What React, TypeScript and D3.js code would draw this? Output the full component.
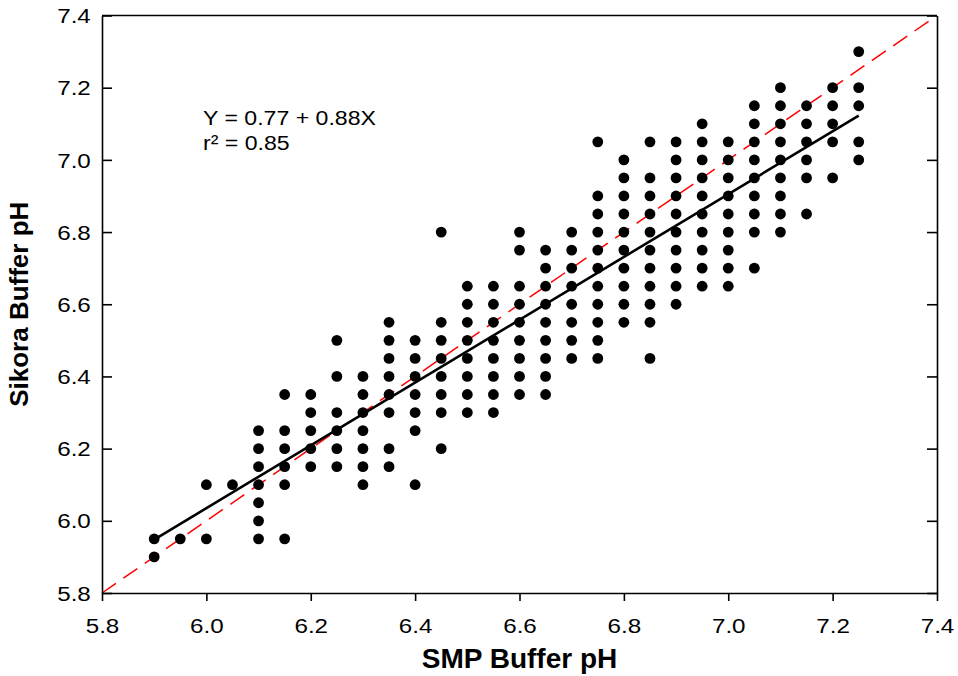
import React, { useEffect, useRef } from "react"
import * as d3 from "d3"

// SMP buffer pH columns and the Sikora values read at each column
const smpValues = [5.9, 5.95, 6.0, 6.05, 6.1, 6.15, 6.2, 6.25, 6.3, 6.35, 6.4, 6.45, 6.5, 6.55, 6.6, 6.65, 6.7, 6.75, 6.8, 6.85, 6.9, 6.95, 7.0, 7.05, 7.1, 7.15, 7.2, 7.25]
const sikoraByColumn = [
  [5.95, 5.9],
  [5.95],
  [6.1, 5.95],
  [6.1],
  [6.25, 6.2, 6.15, 6.1, 6.05, 6.0, 5.95],
  [6.35, 6.25, 6.2, 6.15, 6.1, 5.95],
  [6.35, 6.3, 6.25, 6.2, 6.15],
  [6.5, 6.4, 6.3, 6.25, 6.2, 6.15],
  [6.4, 6.35, 6.3, 6.25, 6.2, 6.15, 6.1],
  [6.55, 6.5, 6.45, 6.4, 6.35, 6.3, 6.2, 6.15],
  [6.5, 6.45, 6.4, 6.35, 6.3, 6.25, 6.1],
  [6.8, 6.55, 6.5, 6.45, 6.4, 6.35, 6.3, 6.2],
  [6.65, 6.6, 6.55, 6.5, 6.45, 6.4, 6.35, 6.3],
  [6.65, 6.6, 6.55, 6.5, 6.45, 6.4, 6.35, 6.3],
  [6.8, 6.75, 6.65, 6.6, 6.55, 6.5, 6.45, 6.4, 6.35],
  [6.75, 6.7, 6.65, 6.6, 6.55, 6.5, 6.45, 6.4, 6.35],
  [6.8, 6.75, 6.7, 6.65, 6.6, 6.55, 6.5, 6.45],
  [7.05, 6.9, 6.85, 6.8, 6.75, 6.7, 6.65, 6.6, 6.55, 6.5, 6.45],
  [7.0, 6.95, 6.9, 6.85, 6.8, 6.75, 6.7, 6.65, 6.6, 6.55],
  [7.05, 6.95, 6.9, 6.85, 6.8, 6.75, 6.7, 6.65, 6.6, 6.55, 6.45],
  [7.05, 7.0, 6.95, 6.9, 6.85, 6.8, 6.75, 6.7, 6.65, 6.6],
  [7.1, 7.05, 7.0, 6.95, 6.9, 6.85, 6.8, 6.75, 6.7, 6.65],
  [7.05, 7.0, 6.95, 6.9, 6.85, 6.8, 6.75, 6.7, 6.65],
  [7.15, 7.1, 7.05, 7.0, 6.95, 6.9, 6.85, 6.8, 6.7],
  [7.2, 7.15, 7.1, 7.05, 7.0, 6.95, 6.9, 6.85, 6.8],
  [7.15, 7.1, 7.05, 7.0, 6.95, 6.85],
  [7.2, 7.15, 7.1, 7.05, 6.95],
  [7.3, 7.2, 7.15, 7.05, 7.0],
]
const tickValues = [5.8, 6.0, 6.2, 6.4, 6.6, 6.8, 7.0, 7.2, 7.4]
const axisDomain = [5.8, 7.4]
// fitted line as drawn (label rounds it to 0.77 + 0.88X)
const fitIntercept = 0.815
const fitSlope = 0.87
const equationLines = ["Y = 0.77 + 0.88X", "r\u00b2 = 0.85"]

const W = 958
const H = 676
const left = 102
const right = 937
const top = 15.5
const bottom = 593
const font = "'Liberation Sans', Arial, Helvetica, sans-serif"

export default function App() {
  const ref = useRef<SVGSVGElement>(null)

  useEffect(() => {
    const svg = d3.select(ref.current)
    svg.selectAll("*").remove()

    const x = d3.scaleLinear().domain(axisDomain).range([left, right])
    const y = d3.scaleLinear().domain(axisDomain).range([bottom, top])

    const points = smpValues.flatMap((sx, i) => sikoraByColumn[i].map(sy => ({ sx, sy })))

    // 1:1 line
    svg.append("line")
      .attr("x1", x(axisDomain[0])).attr("y1", y(axisDomain[0]))
      .attr("x2", x(axisDomain[1])).attr("y2", y(axisDomain[1]))
      .attr("stroke", "#ff0000").attr("stroke-width", 1.5)
      .attr("stroke-dasharray", "17,9")

    svg.append("g").selectAll("circle")
      .data(points)
      .join("circle")
      .attr("cx", d => x(d.sx))
      .attr("cy", d => y(d.sy))
      .attr("r", 5.4)
      .attr("fill", "#000")

    const [x0, x1] = d3.extent(smpValues) as [number, number]
    svg.append("line")
      .attr("x1", x(x0)).attr("y1", y(fitIntercept + fitSlope * x0))
      .attr("x2", x(x1)).attr("y2", y(fitIntercept + fitSlope * x1))
      .attr("stroke", "#000").attr("stroke-width", 2.6)

    // axes
    const gx = svg.append("g").attr("transform", `translate(0,${bottom})`)
      .call(d3.axisBottom(x).tickValues(tickValues).tickFormat(d3.format(".1f")).tickSizeInner(8).tickSizeOuter(0).tickPadding(17))
    const gy = svg.append("g").attr("transform", `translate(${left},0)`)
      .call(d3.axisLeft(y).tickValues(tickValues).tickFormat(d3.format(".1f")).tickSizeInner(-10).tickSizeOuter(0).tickPadding(10))
    svg.append("g").attr("transform", `translate(${right},0)`)
      .call(d3.axisRight(y).tickValues(tickValues).tickFormat(() => "").tickSizeInner(-10).tickSizeOuter(0))
    svg.append("line").attr("x1", left).attr("x2", right).attr("y1", top).attr("y2", top)

    svg.selectAll("line").filter(function () { return !d3.select(this).attr("stroke") }).attr("stroke", "#000")
    svg.selectAll(".domain, .tick line").attr("stroke", "#000").attr("stroke-width", 1.6)
    svg.selectAll("line:not([stroke-width])").attr("stroke-width", 1.6)

    gx.selectAll("text").attr("font-family", font).attr("font-size", 20.5).attr("fill", "#000")
      .attr("transform", "scale(1.18,1)")
    gy.selectAll("text").attr("font-family", font).attr("font-size", 20.5).attr("fill", "#000")
      .attr("transform", "scale(1.18,1)").attr("x", -9.5).attr("dy", "0.35em")

    svg.append("text")
      .attr("x", (left + right) / 2).attr("y", 668)
      .attr("text-anchor", "middle").attr("font-family", font)
      .attr("font-size", 28).attr("font-weight", "bold")
      .text("SMP Buffer pH")
    svg.append("text")
      .attr("transform", `translate(28,${(top + bottom) / 2}) rotate(-90)`)
      .attr("text-anchor", "middle").attr("font-family", font)
      .attr("font-size", 26).attr("font-weight", "bold")
      .text("Sikora Buffer pH")

    equationLines.forEach((t, i) => {
      svg.append("text")
        .attr("transform", `translate(203,${125 + i * 25}) scale(1.1,1)`)
        .attr("font-family", font).attr("font-size", 21)
        .text(t)
    })
  }, [])

  return (
    <svg ref={ref} width={W} height={H}
      style={{ position: "absolute", left: 0, top: 0, background: "#fff" }} />
  )
}
